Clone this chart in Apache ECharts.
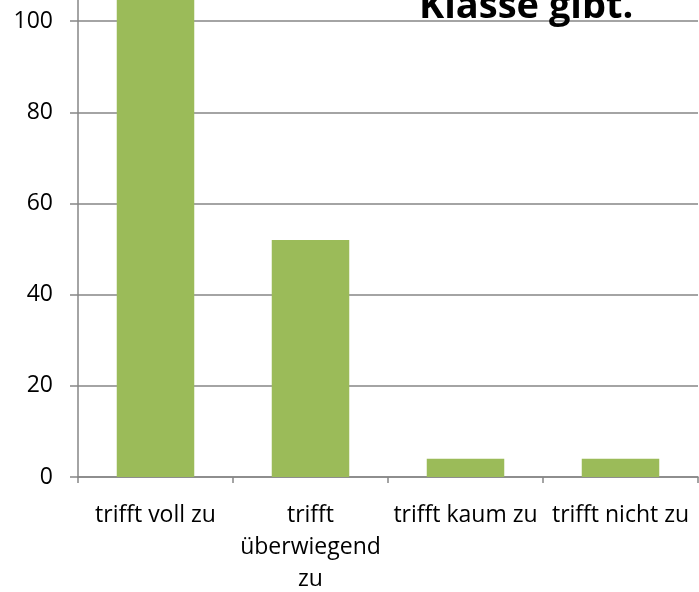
<!DOCTYPE html>
<html>
<head>
<meta charset="utf-8">
<script src="https://cdn.jsdelivr.net/npm/echarts@6/dist/echarts.min.js"></script>
<style>
  html, body { margin: 0; padding: 0; background: #fff; }
  #chart { width: 699px; height: 592px; }
</style>
</head>
<body>
<div id="chart"></div>
<script>
// chart data
var categories = ["trifft voll zu", "trifft\nüberwiegend\nzu", "trifft kaum zu", "trifft nicht zu"];
var values = [110, 52, 4, 4];
var yTicks = [0, 20, 40, 60, 80, 100, 120];

var myChart = echarts.init(document.getElementById("chart"));
myChart.setOption({
  animation: false,
  title: {
    text: "Klasse gibt.",
    left: 414,
    top: -17,
    textStyle: {
      fontFamily: "Open Sans",
      fontWeight: "bold",
      fontSize: 38,
      lineHeight: 38,
      color: "#000"
    }
  },
  grid: {
    left: 78,
    right: 1,
    top: -70,
    bottom: 115,
    containLabel: false,
    outerBoundsMode: "none"
  },
  xAxis: {
    type: "category",
    data: categories,
    axisLine: { lineStyle: { color: "#868686", width: 1.5 } },
    axisTick: { show: true, length: 6, alignWithLabel: false, lineStyle: { color: "#868686", width: 1.5 } },
    axisLabel: {
      interval: 0,
      margin: 22,
      color: "#000",
      fontFamily: "Open Sans",
      fontSize: 23,
      lineHeight: 32
    }
  },
  yAxis: {
    type: "value",
    min: yTicks[0],
    max: yTicks[yTicks.length - 1],
    interval: 20,
    axisLine: { show: true, lineStyle: { color: "#868686", width: 1.5 } },
    axisTick: { show: true, length: 8, lineStyle: { color: "#868686", width: 1.5 } },
    splitLine: { lineStyle: { color: "#868686", width: 1.5 } },
    axisLabel: {
      margin: 25,
      color: "#000",
      fontFamily: "Open Sans",
      fontSize: 23
    }
  },
  series: [
    {
      type: "bar",
      data: values,
      barWidth: "50%",
      itemStyle: { color: "#9BBB59" }
    }
  ]
});
</script>
</body>
</html>
